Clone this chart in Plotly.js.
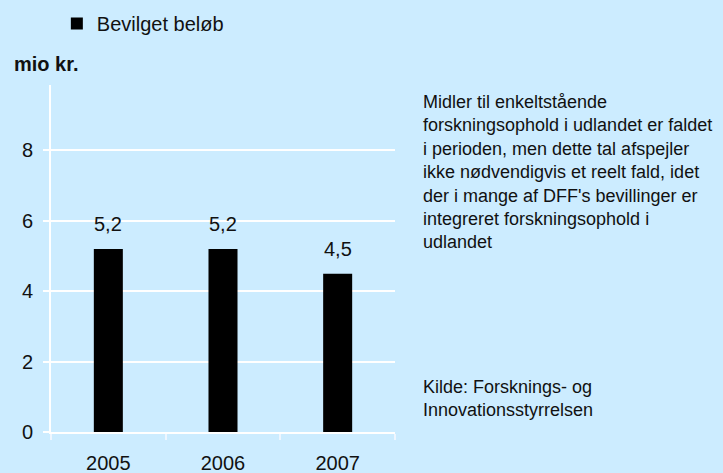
<!DOCTYPE html>
<html>
<head>
<meta charset="utf-8">
<script src="https://cdn.plot.ly/plotly-3.0.1.min.js"></script>
<style>html,body{margin:0;padding:0;background:#CCECFF;}#chart{width:723px;height:473px;}</style>
</head>
<body>
<div id="chart"></div>
<script>
const years = ['2005', '2006', '2007'];
const bevilget = [5.2, 5.2, 4.5];
const yTicks = [0, 2, 4, 6, 8];
const seriesName = 'Bevilget beløb';
const yUnit = 'mio kr.';
const noteText = 'Midler til enkeltstående<br>forskningsophold i udlandet er faldet<br>i perioden, men dette tal afspejler<br>ikke nødvendigvis et reelt fald, idet<br>der i mange af DFF\'s bevillinger er<br>integreret forskningsophold i<br>udlandet';
const sourceText = 'Kilde: Forsknings- og<br>Innovationsstyrrelsen';

const FONT = '"Liberation Sans", Arial, sans-serif';
const TXT = '#111111';

const trace = {
  type: 'bar',
  x: years,
  y: bevilget,
  name: seriesName,
  marker: {color: '#000000'},
  showlegend: true,
  hoverinfo: 'x+y'
};

const valueLabels = years.map((yr, i) => ({
  x: i, y: bevilget[i], xref: 'x', yref: 'y',
  text: bevilget[i].toFixed(1).replace('.', ','),
  showarrow: false, yanchor: 'bottom', yshift: 12,
  font: {family: FONT, size: 20, color: TXT}
}));

const layout = {
  width: 723, height: 473,
  paper_bgcolor: '#CCECFF', plot_bgcolor: '#CCECFF',
  margin: {l: 51, r: 328, t: 85, b: 41, pad: 0, autoexpand: false},
  bargap: 0.747,
  separators: ',.',
  font: {family: FONT, size: 20, color: TXT},
  showlegend: true,
  legend: {
    x: 0.017, y: 1.1775, xanchor: 'left', yanchor: 'middle',
    orientation: 'h', bgcolor: 'rgba(0,0,0,0)',
    font: {family: FONT, size: 20, color: TXT}
  },
  xaxis: {
    type: 'category',
    range: [-0.5, years.length - 0.5],
    showline: true, linecolor: '#ffffff', linewidth: 2,
    ticks: 'outside', tickson: 'boundaries', ticklen: 6, tickcolor: '#eef6ff', tickwidth: 2,
    tickangle: 0,
    ticklabelstandoff: 12,
    showgrid: false, zeroline: false,
    tickfont: {family: FONT, size: 20, color: TXT},
    fixedrange: true
  },
  yaxis: {
    range: [0, 9.86],
    tickvals: yTicks,
    ticktext: yTicks.map(String),
    showline: true, linecolor: '#ffffff', linewidth: 2,
    ticks: 'outside', ticklen: 6, tickcolor: '#ffffff', tickwidth: 2,
    ticklabelstandoff: 6,
    showgrid: true, gridcolor: '#ffffff', gridwidth: 2,
    zeroline: false,
    tickfont: {family: FONT, size: 20, color: TXT},
    fixedrange: true
  },
  annotations: valueLabels.concat([
    {
      xref: 'paper', yref: 'paper', x: -0.1134, y: 1.0596,
      xanchor: 'left', yanchor: 'middle', showarrow: false,
      text: '<b>' + yUnit + '</b>',
      font: {family: FONT, size: 20, color: TXT}
    },
    {
      xref: 'paper', yref: 'paper', x: 1.0756, y: 0.985,
      xanchor: 'left', yanchor: 'top', align: 'left', showarrow: false,
      text: noteText,
      font: {family: FONT, size: 18, color: TXT}
    },
    {
      xref: 'paper', yref: 'paper', x: 1.0756, y: 0.165,
      xanchor: 'left', yanchor: 'top', align: 'left', showarrow: false,
      text: sourceText,
      font: {family: FONT, size: 18, color: TXT}
    }
  ])
};

Plotly.newPlot('chart', [trace], layout, {displayModeBar: false, responsive: false});
</script>
</body>
</html>
